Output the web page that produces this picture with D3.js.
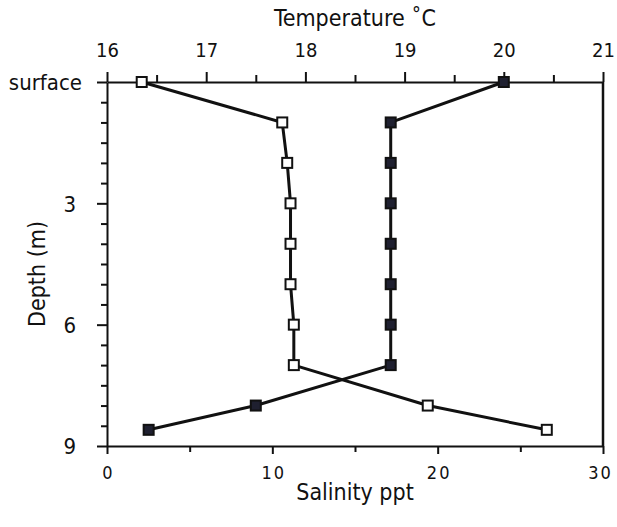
<!DOCTYPE html>
<html>
<head>
<meta charset="utf-8">
<script src="https://cdn.jsdelivr.net/npm/d3@7"></script>
<style>
  html, body { margin: 0; padding: 0; background: #fff; }
  svg { display: block; }
  text { font-family: "Liberation Sans Narrow", "Arial Narrow", "DejaVu Sans Condensed", sans-serif; font-stretch: condensed; fill: #111; }
</style>
</head>
<body>
<svg id="chart" width="617" height="527"></svg>
<script>
// Depth profile: salinity (open squares) and temperature (filled squares)
const depths      = [0, 1, 2, 3, 4, 5, 6, 7, 8, 8.6];
const salinity    = [2.1, 10.6, 10.9, 11.1, 11.1, 11.1, 11.3, 11.3, 19.4, 26.6];
const temperature = [20.0, 18.86, 18.86, 18.86, 18.86, 18.86, 18.86, 18.86, 17.5, 16.42];

const tempTicks  = [16, 17, 18, 19, 20, 21];
const tempMinor  = [16.5, 17.5, 18.5, 19.5, 20.5];
const salTicks   = [0, 10, 20, 30];
const salMinor   = [5, 15, 25];
const depthTicks = [0, 3, 6, 9];
const depthMinor = [0.5, 1, 1.5, 2, 2.5, 3.5, 4, 4.5, 5, 5.5, 6.5, 7, 7.5, 8, 8.5];

const plotL = 107, plotR = 603, plotT = 82, plotB = 446;
const ink = "#111";

const svg = d3.select("#chart");

const xTemp = d3.scaleLinear().domain([16, 21]).range([plotL, plotR]);
const xSal  = d3.scaleLinear().domain([0, 30]).range([plotL, plotR]);
const yDep  = d3.scaleLinear().domain([0, 9]).range([plotT, plotB]);

function styleAxis(g) {
  g.select(".domain").attr("stroke", ink).attr("stroke-width", 2);
  g.selectAll(".tick line").attr("stroke", ink).attr("stroke-width", 2);
}

// Top axis: temperature
const gTop = svg.append("g").attr("transform", `translate(0,${plotT})`)
  .call(d3.axisTop(xTemp).tickValues(tempTicks).tickSize(10).tickSizeOuter(0).tickFormat(d3.format("d")));
styleAxis(gTop);
gTop.selectAll(".tick text").attr("y", -25).attr("dy", 0).attr("font-size", 20);
svg.append("g").attr("transform", `translate(0,${plotT})`)
  .call(d3.axisTop(xTemp).tickValues(tempMinor).tickSize(7).tickFormat(""))
  .call(g => { styleAxis(g); g.select(".domain").remove(); });

// Bottom axis: salinity
const gBot = svg.append("g").attr("transform", `translate(0,${plotB})`)
  .call(d3.axisBottom(xSal).tickValues(salTicks).tickSize(8).tickSizeOuter(0).tickFormat(d3.format("d")));
styleAxis(gBot);
gBot.selectAll(".tick text").attr("y", 33).attr("dy", 0).attr("font-size", 18)
  .attr("letter-spacing", 2).attr("dx", d => d === 30 ? -3 : 1);
svg.append("g").attr("transform", `translate(0,${plotB})`)
  .call(d3.axisBottom(xSal).tickValues(salMinor).tickSize(6).tickFormat(""))
  .call(g => { styleAxis(g); g.select(".domain").remove(); });

// Left axis: depth
const gLeft = svg.append("g").attr("transform", `translate(${plotL},0)`)
  .call(d3.axisLeft(yDep).tickValues(depthTicks).tickSize(10).tickSizeOuter(0)
    .tickFormat(d => d === 0 ? "surface" : d));
styleAxis(gLeft);
gLeft.selectAll(".tick text").attr("font-size", 22).attr("dy", "0.35em")
  .attr("x", d => d === 0 ? -25 : -31);
svg.append("g").attr("transform", `translate(${plotL},0)`)
  .call(d3.axisLeft(yDep).tickValues(depthMinor).tickSize(6).tickFormat(""))
  .call(g => { styleAxis(g); g.select(".domain").remove(); });

// Right frame line
svg.append("line").attr("x1", plotR).attr("x2", plotR).attr("y1", plotT).attr("y2", plotB)
  .attr("stroke", ink).attr("stroke-width", 2.5);

// Axis titles
svg.append("text").attr("x", (plotL + plotR) / 2).attr("y", 26).attr("text-anchor", "middle")
  .attr("font-size", 23).text("Temperature ˚C");
svg.append("text").attr("x", (plotL + plotR) / 2).attr("y", 500).attr("text-anchor", "middle")
  .attr("font-size", 23).text("Salinity ppt");
svg.append("text").attr("transform", `translate(45,${(plotT + plotB) / 2 + 10}) rotate(-90)`)
  .attr("text-anchor", "middle").attr("font-size", 23).text("Depth (m)");

// Profiles
const salPts  = depths.map((d, i) => [xSal(salinity[i]), yDep(d)]);
const tempPts = depths.map((d, i) => [xTemp(temperature[i]), yDep(d)]);
const line = d3.line();

svg.append("path").attr("d", line(salPts)).attr("fill", "none")
  .attr("stroke", ink).attr("stroke-width", 3).attr("stroke-linejoin", "round");
svg.append("path").attr("d", line(tempPts)).attr("fill", "none")
  .attr("stroke", ink).attr("stroke-width", 3).attr("stroke-linejoin", "round");

const s = 10;
svg.append("g").selectAll("rect").data(tempPts).join("rect")
  .attr("x", d => d[0] - s / 2).attr("y", d => d[1] - s / 2)
  .attr("width", s).attr("height", s)
  .attr("fill", "#1f2030").attr("stroke", ink).attr("stroke-width", 2);
svg.append("g").selectAll("rect").data(salPts).join("rect")
  .attr("x", d => d[0] - s / 2).attr("y", d => d[1] - s / 2)
  .attr("width", s).attr("height", s)
  .attr("fill", "#fff").attr("stroke", ink).attr("stroke-width", 2);
</script>
</body>
</html>
